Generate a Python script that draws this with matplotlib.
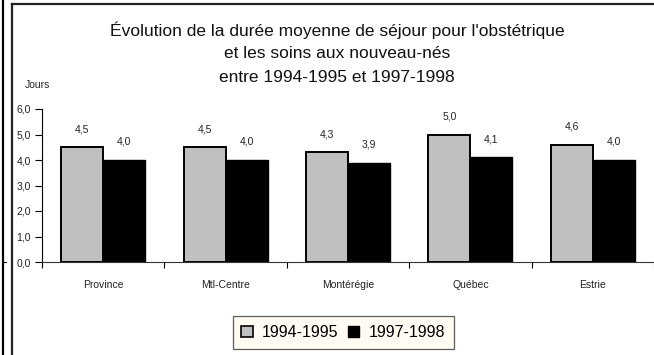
import matplotlib
matplotlib.use("Agg")
import matplotlib.pyplot as plt
from matplotlib.lines import Line2D
from matplotlib.patches import Patch
import numpy as np

plt.rcParams['font.family'] = ['Liberation Sans', 'DejaVu Sans']

regions = ["Province", "Mtl-Centre", "Montérégie", "Québec", "Estrie"]
series_names = ["1994-1995", "1997-1998"]
vals_9495 = [4.5, 4.5, 4.3, 5.0, 4.6]
vals_9798 = [4.0, 4.0, 3.9, 4.1, 4.0]
yticks = [0, 1, 2, 3, 4, 5, 6]

W, H = 654, 355
fig = plt.figure(figsize=(W / 100, H / 100), dpi=100)
fig.patch.set_facecolor("white")

def fx(px):
    return px / W

def fy(py):
    return 1 - py / H

# surrounding frame lines
fig.add_artist(Line2D([fx(3), fx(3)], [0, 1], color="black", lw=1.6))
fig.add_artist(Line2D([fx(11.8), fx(11.8)], [0, fy(4)], color="#222222", lw=1.6))
fig.add_artist(Line2D([fx(11.8), 1], [fy(4), fy(4)], color="#222222", lw=1.6))
fig.add_artist(Line2D([fx(3), fx(6)], [fy(262), fy(262)], color="black", lw=0.8))

ax = fig.add_axes([fx(42), fy(262), fx(612), (262 - 109) / H])
ax.set_facecolor("none")

x = np.arange(len(regions))
bw = 0.343
b1 = ax.bar(x - bw / 2, vals_9495, width=bw, color="#C0C0C0", edgecolor="black", linewidth=1.4, zorder=2)
b2 = ax.bar(x + bw / 2, vals_9798, width=bw, color="black", edgecolor="black", linewidth=1.0, zorder=2)

def fmt(v):
    return f"{v:.1f}".replace(".", ",")

for bars, vals in ((b1, vals_9495), (b2, vals_9798)):
    for rect, v in zip(bars, vals):
        ax.annotate(fmt(v), (rect.get_x() + rect.get_width() / 2, v),
                    xytext=(0, 18), textcoords="offset pixels",
                    ha="center", va="center", fontsize=7.5, color="#222222")

ax.set_xlim(-0.5, len(regions) - 0.5)
ax.set_ylim(0, 6)
ax.set_yticks(yticks)
ax.set_yticklabels([fmt(t) for t in yticks], fontsize=7.5, color="#222222")
ax.set_xticks(np.arange(len(regions) + 1) - 0.5, minor=True)
ax.set_xticks(x)
ax.set_xticklabels(regions, fontsize=7.5, color="#222222")
ax.tick_params(axis="x", which="major", length=0, pad=13)
ax.tick_params(axis="x", which="minor", length=4, width=0.8, direction="out")
ax.tick_params(axis="y", length=5, width=0.8, direction="out", pad=3)
for s in ("top", "right"):
    ax.spines[s].set_visible(False)
ax.spines["left"].set_linewidth(0.8)
ax.spines["bottom"].set_linewidth(0.8)
ax.spines["bottom"].set_color("#333333")

fig.text(fx(37), fy(85), "Jours", fontsize=7.5, ha="center", va="center", color="#222222")

title_lines = ["Évolution de la durée moyenne de séjour pour l'obstétrique",
               "et les soins aux nouveau-nés",
               "entre 1994-1995 et 1997-1998"]
for i, line in enumerate(title_lines):
    fig.text(fx(337), fy(30 + 23.5 * i), line, fontsize=12.5, ha="center", va="center",
             color="#111111")

handles = [Patch(facecolor="#C0C0C0", edgecolor="black", linewidth=1.2),
           Patch(facecolor="black", edgecolor="black")]
leg = fig.legend(handles, series_names, loc="center",
                 bbox_to_anchor=(fx(343.5), fy(332.5)), ncol=2, fontsize=11.5,
                 frameon=True, fancybox=False, handlelength=0.7, handleheight=0.7,
                 handletextpad=0.6, columnspacing=0.6, borderpad=0.55,
                 borderaxespad=0)
leg.get_frame().set_facecolor("#FFFAF0")
leg.get_frame().set_edgecolor("#333333")
leg.get_frame().set_linewidth(0.9)

fig.savefig("out.png", dpi=100)
